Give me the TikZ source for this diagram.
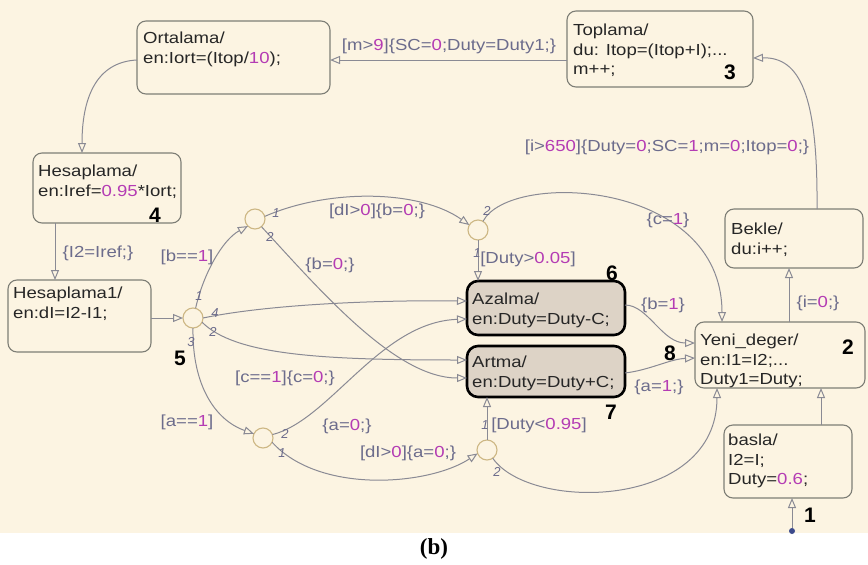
\documentclass[tikz,border=0pt]{standalone}
\usepackage{fontspec}
\setmainfont{Liberation Sans}
\newfontfamily\chartfont[FakeStretch=1.16]{Liberation Sans}
\newfontfamily\capfont{Liberation Serif}
\usetikzlibrary{arrows.meta}
\definecolor{paper}{HTML}{FCF4E2}
\definecolor{wire}{HTML}{8A8A94}
\definecolor{lbl}{HTML}{6C6C8C}
\definecolor{mag}{HTML}{B43CB4}
\definecolor{edge}{HTML}{7E7E76}
\definecolor{active}{HTML}{DDD3C6}
\definecolor{junc}{HTML}{CDB784}
\definecolor{ink}{HTML}{262626}
\definecolor{dotblue}{HTML}{3C4A8C}
\newcommand\mg[1]{\textcolor{mag}{#1}}

\tikzset{
  statebox/.style={draw=edge, line width=1.1pt, rounded corners=9pt, fill=paper,
    inner sep=0pt, outer sep=0pt, anchor=north west},
  activebox/.style={draw=black, line width=2.6pt, rounded corners=11pt, fill=active,
    inner sep=0pt, outer sep=0pt, anchor=north west},
  stxt/.style={anchor=north west, align=left, inner sep=0pt, text=ink,
    font=\chartfont\fontsize{16}{19.5}\selectfont},
  lab/.style={inner sep=0pt, text=lbl, font=\chartfont\fontsize{16}{19}\selectfont},
  num/.style={inner sep=0pt, text=black, font=\fontsize{21}{21}\selectfont\bfseries},
  exitno/.style={inner sep=0pt, text=lbl, font=\fontsize{13}{13}\selectfont\itshape},
  junction/.style={circle, draw=junc, line width=1.1pt, fill=paper, minimum size=20pt,
    inner sep=0pt, outer sep=0pt},
  tr/.style={draw=wire, line width=1pt, -{Triangle[open, length=10pt, width=8pt]}},
}

\begin{document}
\begin{tikzpicture}[x=1pt, y=-1pt]
\useasboundingbox (0,0) rectangle (868,565);
\fill[white] (0,0) rectangle (868,565);
\fill[paper] (0,0) rectangle (868,533);

% states
\node[statebox, minimum width=193pt, minimum height=73pt] (ort) at (137,21) {};
\node[statebox, minimum width=186pt, minimum height=76pt] (top) at (567,11) {};
\node[statebox, minimum width=148pt, minimum height=70pt] (hes) at (33,153) {};
\node[statebox, minimum width=143pt, minimum height=72pt] (hes1) at (8,280) {};
\node[statebox, minimum width=138pt, minimum height=59pt] (bek) at (725,209) {};
\node[statebox, minimum width=170pt, minimum height=66pt] (yeni) at (695,322) {};
\node[statebox, minimum width=128pt, minimum height=73pt] (bas) at (724,425) {};
\node[activebox, minimum width=158pt, minimum height=54pt] (aza) at (467,281) {};
\node[activebox, minimum width=158pt, minimum height=51pt] (art) at (467,346) {};

% state texts
\node[stxt] (ortT) at (143,32) {Ortalama/\\en:Iort=(Itop/\mg{10});};
\node[stxt] (topT) at (573,24) {Toplama/\\du: Itop=(Itop+I);...\\m++;};
\node[stxt] (hesT) at (38,165) {Hesaplama/\\en:Iref=\mg{0.95}*Iort;};
\node[stxt] (hes1T) at (13,287) {Hesaplama1/\\en:dI=I2-I1;};
\node[stxt] (bekT) at (731,223) {Bekle/\\du:i++;};
\node[stxt] (yeniT) at (700,334) {Yeni\_deger/\\en:I1=I2;...\\Duty1=Duty;};
\node[stxt] (basT) at (728,434) {basla/\\I2=I;\\Duty=\mg{0.6};};
\node[stxt] (azaT) at (472,293) {Azalma/\\en:Duty=Duty-C;};
\node[stxt] (artT) at (472,356) {Artma/\\en:Duty=Duty+C;};

% junctions and default transition dot
\node[junction] (j5) at (193,318) {};
\node[junction] (j1) at (255,219) {};
\node[junction] (j2) at (478,230) {};
\node[junction] (j3) at (263,438) {};
\node[junction] (j4) at (487,450) {};
\node[circle, fill=dotblue, inner sep=0pt, minimum size=6pt] (dflt) at (792,531) {};

% anchor points on state borders
\coordinate (bOut) at ([xshift=33pt]bas.north);
\coordinate (yOut) at ([xshift=9pt]yeni.north);
\coordinate (yIn1) at ([xshift=-58pt]yeni.north);
\coordinate (yIn2) at ([xshift=-63pt]yeni.south);
\coordinate (hOut) at ([xshift=-52pt]hes.south);

% transitions
\draw[tr] (dflt) -- (dflt |- bas.south);
\draw[tr] (bOut) -- (bOut |- yeni.south);
\draw[tr] (yOut) -- (yOut |- bek.south);
\draw[tr] ([xshift=23pt]bek.north) .. controls (818,95) and (800,57) .. ([yshift=-9pt]top.east);
\draw[tr] ([yshift=-11pt]top.west) -- ([yshift=-2.5pt]ort.east);
\draw[tr] ([yshift=-2.5pt]ort.west) .. controls (95,62) and (82,100) .. ([xshift=-25pt]hes.north);
\draw[tr] (hOut) -- (hOut |- hes1.north);
\draw[tr] (j5 -| hes1.east) -- (j5.west);
\draw[tr] (j5.75) .. controls (203,275) and (222,240) .. (j1.225);
\draw[tr] (j1.15) .. controls (330,188) and (420,190) .. (j2.150);
\draw[tr] (j1.-50) .. controls (320,290) and (395,378) .. ([yshift=-6.5pt]art.west);
\draw[tr] (j5.east) .. controls (270,304) and (380,300) .. ([yshift=7pt]aza.west);
\draw[tr] (j5.-25) .. controls (235,355) and (320,360) .. ([yshift=11.5pt]art.west);
\draw[tr] (j5.south) .. controls (192,385) and (215,420) .. (j3.155);
\draw[tr] (j3.20) .. controls (330,420) and (380,322) .. ([yshift=-11pt]aza.west);
\draw[tr] (j3.-25) .. controls (320,495) and (430,485) .. (j4.200);
\draw[tr] (j4.north) -- (j4.north |- art.south);
\draw[tr] (j4.-55) .. controls (530,512) and (717,510) .. (yIn2);
\draw[tr] (j2.south) -- (j2.south |- aza.north);
\draw[tr] (j2.60) .. controls (510,170) and (722,180) .. (yIn1);
\draw[tr] ([yshift=3pt]aza.east) .. controls (648,305) and (662,343) .. ([yshift=12pt]yeni.west);
\draw[tr] ([yshift=-1.5pt]art.east) .. controls (650,370) and (670,359) .. ([yshift=-3pt]yeni.west);

% transition labels
\node[lab] (l1) at (449,46) {[m>\mg{9}]\{SC=\mg{0};Duty=Duty1;\}};
\node[lab] (l2) at (667,147) {[i>\mg{650}]\{Duty=\mg{0};SC=\mg{1};m=\mg{0};Itop=\mg{0};\}};
\node[lab] (l3) at (98,253) {\{I2=Iref;\}};
\node[lab] (l4) at (187,257) {[b==\mg{1}]};
\node[lab] (l5) at (377,211) {[dI>\mg{0}]\{b=\mg{0};\}};
\node[lab] (l6) at (330,265) {\{b=\mg{0};\}};
\node[lab] (l7) at (528,259) {[Duty>\mg{0.05}]};
\node[lab] (l8) at (668,220) {\{c=\mg{1}\}};
\node[lab] (l9) at (663,305) {\{b=\mg{1}\}};
\node[lab] (l10) at (659,387) {\{a=\mg{1};\}};
\node[lab] (l11) at (539,425) {[Duty<\mg{0.95}]};
\node[lab] (l12) at (818,303) {\{i=\mg{0};\}};
\node[lab] (l13) at (285,378) {[c==\mg{1}]\{c=\mg{0};\}};
\node[lab] (l14) at (347,426) {\{a=\mg{0};\}};
\node[lab] (l15) at (187,422) {[a==\mg{1}]};
\node[lab] (l16) at (408,453) {[dI>\mg{0}]\{a=\mg{0};\}};

% bold state numbers
\node[num] (n1) at (810,515) {1};
\node[num] (n2) at (848,347) {2};
\node[num] (n3) at (730,72) {3};
\node[num] (n4) at (155,215) {4};
\node[num] (n5) at (180,358) {5};
\node[num] (n6) at (612,273) {6};
\node[num] (n7) at (611,412) {7};
\node[num] (n8) at (670,353) {8};

% junction exit orders
\node[exitno] (e51) at (199,296) {1};
\node[exitno] (e54) at (215,313) {4};
\node[exitno] (e52) at (213,332) {2};
\node[exitno] (e53) at (191,342) {3};
\node[exitno] (e11) at (276,213) {1};
\node[exitno] (e12) at (270,237) {2};
\node[exitno] (e22) at (487,211) {2};
\node[exitno] (e21) at (477,253) {1};
\node[exitno] (e32) at (285,434) {2};
\node[exitno] (e31) at (282,453) {1};
\node[exitno] (e41) at (485,425) {1};
\node[exitno] (e42) at (497,472) {2};

% caption
\node[font=\capfont\bfseries\fontsize{23}{23}\selectfont, inner sep=0pt] (cap) at (434,549) {(b)};
\end{tikzpicture}
\end{document}
